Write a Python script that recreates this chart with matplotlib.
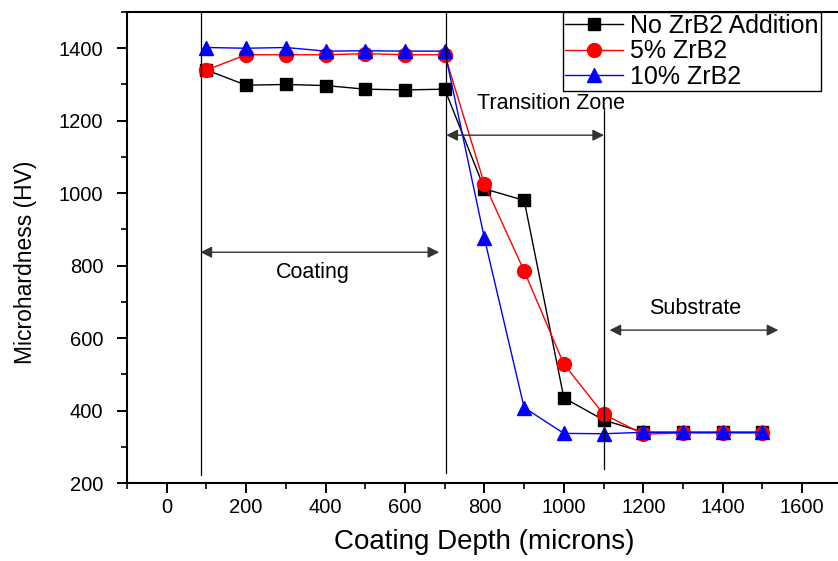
import matplotlib
matplotlib.use('Agg')
import numpy as np
from matplotlib import pyplot as plt
from matplotlib.ticker import MultipleLocator

plt.rcParams['font.family'] = ['Liberation Sans', 'DejaVu Sans']

# === Données ===
depth = [100, 200, 300, 400, 500, 600, 700, 800, 900, 1000, 1100, 1200, 1300, 1400, 1500]
hv_none = [1340, 1298, 1300, 1297, 1287, 1285, 1287, 1012, 980, 435, 374, 340, 340, 340, 340]
hv_5 = [1340, 1382, 1382, 1382, 1385, 1382, 1382, 1025, 785, 528, 390, 335, 338, 338, 338]
hv_10 = [1402, 1400, 1402, 1392, 1393, 1392, 1392, 875, 408, 337, 336, 340, 340, 340, 340]
labels = ['No ZrB2 Addition', '5% ZrB2', '10% ZrB2']

# zones : (x début, x fin, y flèche, texte, x texte, y texte)
zones = [
    (85, 686, 837, 'Coating', 368, 782),
    (704, 1101, 1160, 'Transition Zone', 967, 1248),
    (1115, 1540, 622, 'Substrate', 1330, 682),
]
# lignes verticales : (x, y bas, y haut)
vlines = [(85, 222, 1500), (704, 228, 1500), (1101, 239, 1234)]

# === Figure ===
fig = plt.figure(figsize=(8.38, 5.61), dpi=100)
ax = fig.add_axes([0.1516, 0.139, 0.853, 0.8396])

ax.plot(depth, hv_none, 'k-', marker='s', ms=9, lw=1, label=labels[0])
ax.plot(depth, hv_5, 'r-', marker='o', ms=10, lw=1, label=labels[1])
ax.plot(depth, hv_10, 'b-', marker='^', ms=10, lw=1, label=labels[2])

for x, y0, y1 in vlines:
    ax.plot([x, x], [y0, y1], color='k', lw=0.9)

for x0, x1, y, txt, tx, ty in zones:
    ax.annotate('', xy=(x1, y), xytext=(x0, y),
                arrowprops=dict(arrowstyle='<|-|>', color='0.2', lw=1,
                                mutation_scale=17, shrinkA=0, shrinkB=0))
    ax.text(tx, ty, txt, ha='center', va='center', fontsize=15.5)

ax.set_xlim(-100, 1700)
ax.set_ylim(200, 1500)
ax.xaxis.set_major_locator(MultipleLocator(200))
ax.xaxis.set_minor_locator(MultipleLocator(100))
ax.yaxis.set_major_locator(MultipleLocator(200))
ax.yaxis.set_minor_locator(MultipleLocator(100))
ax.set_yticks(np.arange(200, 1401, 200))
ax.tick_params(which='major', direction='out', length=7, width=1.4, labelsize=14.5)
ax.tick_params(which='minor', direction='out', length=4, width=1.2)
ax.tick_params(axis='y', which='major', pad=10)
for s in ax.spines.values():
    s.set_linewidth(1.5)

ax.set_xlabel('Coating Depth (microns)', fontsize=20, labelpad=9)
ax.set_ylabel('Microhardness (HV)', fontsize=16.5)
ax.yaxis.set_label_coords(-0.126, 0.469)

leg = fig.legend(loc='upper left', bbox_to_anchor=(563 / 838, 1 - 12 / 561),
                 fontsize=18, frameon=True, fancybox=False, framealpha=1,
                 edgecolor='k', labelspacing=0.06, handlelength=2.3,
                 handletextpad=0.3, borderpad=0.08, borderaxespad=0)
leg.get_frame().set_linewidth(1)

fig.savefig('out.png', dpi=100)
